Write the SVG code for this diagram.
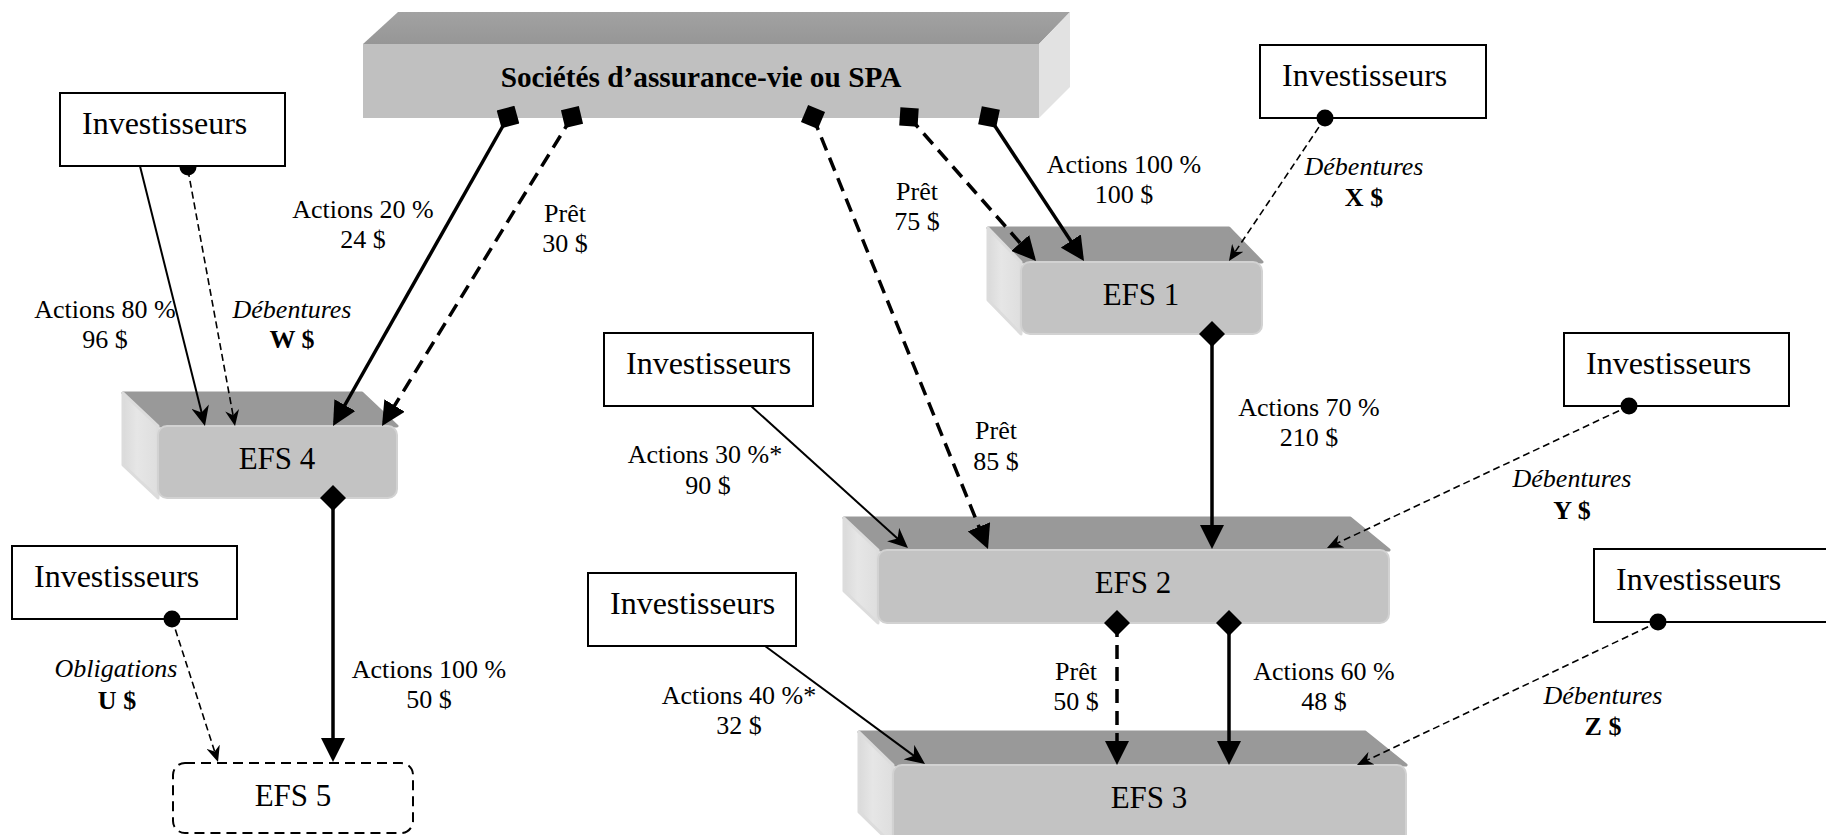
<svg xmlns="http://www.w3.org/2000/svg" width="1826" height="835" viewBox="0 0 1826 835">
<defs>
<style>
text{font-family:"Liberation Serif","Times New Roman",serif;fill:#000}
.lbl{font-size:26px;text-anchor:middle}
.it{font-style:italic}
.b{font-weight:bold}
.efs{font-size:31px;text-anchor:middle}
.inv{font-size:32px}
.box{fill:#fff;stroke:#000;stroke-width:2}
.top{fill:#999;stroke:#999;stroke-width:3;stroke-linejoin:round}
.side{fill:url(#sideG);stroke:#dcdcdc;stroke-width:3;stroke-linejoin:round}
.front{fill:#c3c3c3;stroke:#d2d2d2;stroke-width:2}
.thick{fill:none;stroke:#000;stroke-width:3.5}
.thickd{fill:none;stroke:#000;stroke-width:3.5;stroke-dasharray:14 8}
.thin{fill:none;stroke:#000;stroke-width:2}
.thind{fill:none;stroke:#000;stroke-width:1.6;stroke-dasharray:7 4}
</style>
<linearGradient id="sideG" x1="0" y1="0" x2="1" y2="0">
<stop offset="0" stop-color="#dadada"/><stop offset="0.4" stop-color="#e6e6e6"/><stop offset="1" stop-color="#dedede"/>
</linearGradient>
<linearGradient id="spaTop" x1="0" y1="0" x2="0" y2="1">
<stop offset="0" stop-color="#a2a2a2"/><stop offset="1" stop-color="#969696"/>
</linearGradient>
<marker id="dia" viewBox="0 0 26 26" refX="13" refY="13" markerWidth="26" markerHeight="26" markerUnits="userSpaceOnUse" orient="auto"><path d="M0,13 L13,0 L26,13 L13,26 Z" fill="#000"/></marker>
<marker id="arr" viewBox="0 0 24 24" refX="20" refY="12" markerWidth="24" markerHeight="24" markerUnits="userSpaceOnUse" orient="auto"><path d="M0,0 L24,12 L0,24 Z" fill="#000"/></marker>
<marker id="st" viewBox="0 0 20 18" refX="16" refY="9" markerWidth="20" markerHeight="18" markerUnits="userSpaceOnUse" orient="auto"><path d="M0,0 L20,9 L0,18 L6,9 Z" fill="#000"/></marker>
<marker id="sts" viewBox="0 0 16 14" refX="12" refY="7" markerWidth="16" markerHeight="14" markerUnits="userSpaceOnUse" orient="auto"><path d="M0,0 L16,7 L0,14 L5,7 Z" fill="#000"/></marker>
<marker id="dot" viewBox="0 0 18 18" refX="9" refY="9" markerWidth="18" markerHeight="18" markerUnits="userSpaceOnUse"><circle cx="9" cy="9" r="8.5" fill="#000"/></marker>
</defs>
<rect width="1826" height="835" fill="#fff"/>

<g id="spa">
<polygon points="398,12 1070,12 1039,44 363,44" fill="url(#spaTop)"/>
<rect x="363" y="44" width="676" height="74" fill="#c0c0c0"/>
<polygon points="1039,44 1070,12 1070,87 1039,118" fill="#e2e2e2"/>
<text x="701" y="87" font-size="29.3" font-weight="bold" text-anchor="middle">Sociétés d’assurance-vie ou SPA</text>
</g>

<g id="efs1">
<polygon class="top" points="988,228 1229,228 1262,262 1021,262"/>
<polygon class="side" points="988,228 1021,262 1021,334 988,300"/>
<rect class="front" x="1021" y="262" width="241" height="72" rx="9"/>
<text class="efs" x="1141" y="305">EFS 1</text>
</g>

<g id="efs4">
<polygon class="top" points="123,393 362,393 397,426 158,426"/>
<polygon class="side" points="123,393 158,426 158,498 123,465"/>
<rect class="front" x="158" y="426" width="239" height="72" rx="9"/>
<text class="efs" x="277" y="469">EFS 4</text>
</g>

<g id="efs2">
<polygon class="top" points="844,518 1350,518 1389,550 878,550"/>
<polygon class="side" points="844,518 878,550 878,623 844,591"/>
<rect class="front" x="878" y="550" width="511" height="73" rx="9"/>
<text class="efs" x="1133" y="593">EFS 2</text>
</g>

<g id="efs3">
<polygon class="top" points="859,732 1365,732 1406,765 893,765"/>
<polygon class="side" points="859,732 893,765 893,845 859,812"/>
<rect class="front" x="893" y="765" width="513" height="80" rx="9"/>
<text class="efs" x="1149" y="808">EFS 3</text>
</g>

<g id="efs5">
<rect x="173" y="763" width="240" height="70" rx="12" fill="#fff" stroke="#000" stroke-width="2" stroke-dasharray="10 6"/>
<text class="efs" x="293" y="806">EFS 5</text>
</g>

<g id="inv-w">
<rect class="box" x="60" y="93" width="225" height="73"/>
<text class="inv" x="82" y="134">Investisseurs</text>
</g>
<g id="inv-x">
<rect class="box" x="1260" y="45" width="226" height="73"/>
<text class="inv" x="1282" y="86">Investisseurs</text>
</g>
<g id="inv-30">
<rect class="box" x="604" y="333" width="209" height="73"/>
<text class="inv" x="626" y="374">Investisseurs</text>
</g>
<g id="inv-y">
<rect class="box" x="1564" y="333" width="225" height="73"/>
<text class="inv" x="1586" y="374">Investisseurs</text>
</g>
<g id="inv-40">
<rect class="box" x="588" y="573" width="208" height="73"/>
<text class="inv" x="610" y="614">Investisseurs</text>
</g>
<g id="inv-z">
<rect class="box" x="1594" y="549" width="245" height="73"/>
<text class="inv" x="1616" y="590">Investisseurs</text>
</g>
<g id="inv-u">
<rect class="box" x="12" y="546" width="225" height="73"/>
<text class="inv" x="34" y="587">Investisseurs</text>
</g>

<g id="connectors">
<path class="thick" d="M508,117 L335,422.5" marker-start="url(#dia)" marker-end="url(#arr)"/>
<path class="thickd" d="M572,117 L384.1,422.6" marker-start="url(#dia)" marker-end="url(#arr)"/>
<path class="thickd" d="M813,117 L986.5,545.3" marker-start="url(#dia)" marker-end="url(#arr)"/>
<path class="thickd" d="M909,117 L1033.4,258" marker-start="url(#dia)" marker-end="url(#arr)"/>
<path class="thick" d="M989,117 L1081.8,257.7" marker-start="url(#dia)" marker-end="url(#arr)"/>
<path class="thick" d="M1212,334 L1212,545" marker-start="url(#dia)" marker-end="url(#arr)"/>
<path class="thick" d="M333,498 L333,758" marker-start="url(#dia)" marker-end="url(#arr)"/>
<path class="thickd" d="M1117,623 L1117,761" marker-start="url(#dia)" marker-end="url(#arr)"/>
<path class="thick" d="M1229,623 L1229,761" marker-start="url(#dia)" marker-end="url(#arr)"/>

<path class="thin" d="M140,166 L204,422.1" marker-end="url(#st)"/>
<path class="thin" d="M751,406 L905,545.3" marker-end="url(#st)"/>
<path class="thin" d="M765,646 L921.8,761.6" marker-end="url(#st)"/>

<path d="M179.5,167 A8.5,8.5 0 0 0 196.5,167 Z" fill="#000"/>
<path class="thind" d="M188,170 L234.3,422.1" marker-end="url(#sts)"/>
<path class="thind" d="M1325,118 L1231.2,257.7" marker-start="url(#dot)" marker-end="url(#sts)"/>
<path class="thind" d="M1629,406 L1330.6,546.3" marker-start="url(#dot)" marker-end="url(#sts)"/>
<path class="thind" d="M1658,622 L1360.6,763.3" marker-start="url(#dot)" marker-end="url(#sts)"/>
<path class="thind" d="M172,619 L216.8,758.2" marker-start="url(#dot)" marker-end="url(#sts)"/>
</g>

<g id="labels">
<text class="lbl" x="363" y="218">Actions 20 %</text>
<text class="lbl" x="363" y="248">24 $</text>
<text class="lbl" x="565" y="222">Prêt</text>
<text class="lbl" x="565" y="252">30 $</text>
<text class="lbl" x="105" y="318">Actions 80 %</text>
<text class="lbl" x="105" y="348">96 $</text>
<text class="lbl it" x="292" y="318">Débentures</text>
<text class="lbl b" x="292" y="348">W $</text>
<text class="lbl" x="917" y="200">Prêt</text>
<text class="lbl" x="917" y="230">75 $</text>
<text class="lbl" x="1124" y="173">Actions 100 %</text>
<text class="lbl" x="1124" y="203">100 $</text>
<text class="lbl it" x="1364" y="175">Débentures</text>
<text class="lbl b" x="1364" y="206">X $</text>
<text class="lbl" x="1309" y="416">Actions 70 %</text>
<text class="lbl" x="1309" y="446">210 $</text>
<text class="lbl" x="996" y="439">Prêt</text>
<text class="lbl" x="996" y="470">85 $</text>
<text class="lbl" x="705" y="463">Actions 30 %*</text>
<text class="lbl" x="708" y="494">90 $</text>
<text class="lbl it" x="1572" y="487">Débentures</text>
<text class="lbl b" x="1572" y="519">Y $</text>
<text class="lbl" x="1076" y="680">Prêt</text>
<text class="lbl" x="1076" y="710">50 $</text>
<text class="lbl" x="1324" y="680">Actions 60 %</text>
<text class="lbl" x="1324" y="710">48 $</text>
<text class="lbl" x="739" y="704">Actions 40 %*</text>
<text class="lbl" x="739" y="734">32 $</text>
<text class="lbl it" x="1603" y="704">Débentures</text>
<text class="lbl b" x="1603" y="735">Z $</text>
<text class="lbl it" x="116" y="677">Obligations</text>
<text class="lbl b" x="117" y="709">U $</text>
<text class="lbl" x="429" y="678">Actions 100 %</text>
<text class="lbl" x="429" y="708">50 $</text>
</g>
</svg>
